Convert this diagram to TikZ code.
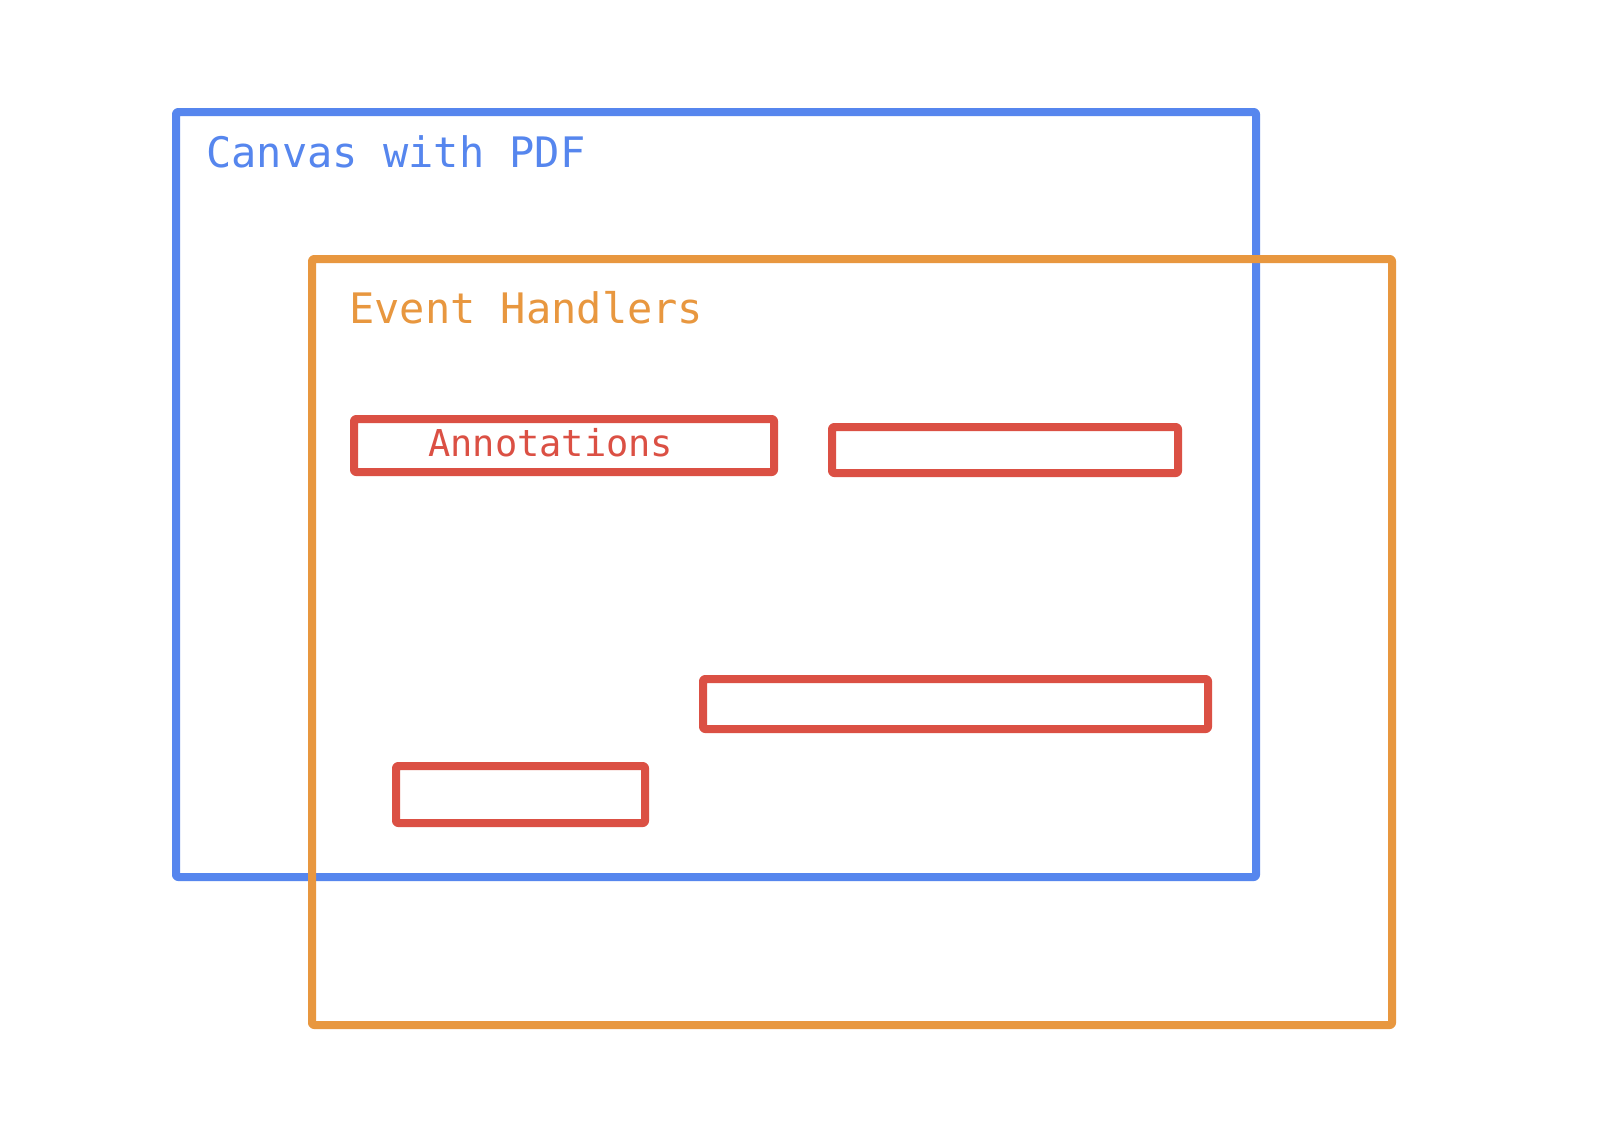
\documentclass[tikz,border=0pt]{standalone}
\usepackage{fontspec}
\setmonofont{DejaVu Sans Mono}
\definecolor{cblue}{HTML}{5686EE}
\definecolor{corange}{HTML}{E8973F}
\definecolor{cred}{HTML}{DB5044}
\begin{document}
\begin{tikzpicture}[x=1pt,y=-1pt,
  frame/.style={draw, line width=8pt, rounded corners=2pt, line join=round, inner sep=0pt, outer sep=0pt, anchor=north west},
  redbox/.style={frame, draw=cred},
  lbl/.style={anchor=base west, inner sep=0pt, font=\ttfamily\fontsize{42}{42}\selectfont}]
\useasboundingbox[fill=white] (0,0) rectangle (1624,1128);
\node[frame, draw=cblue, minimum width=1080pt, minimum height=765pt] (canvas) at (176,112) {};
\node[lbl, text=cblue] (canvaslbl) at (206,167) {Canvas with PDF};
\node[frame, draw=corange, minimum width=1080pt, minimum height=766pt] (events) at (312,259) {};
\node[lbl, text=corange] (eventslbl) at (349,323) {Event Handlers};
\node[redbox, minimum width=420pt, minimum height=53pt] (ann) at (354,419) {};
\node[anchor=base west, inner sep=0pt, text=cred, font=\ttfamily\fontsize{37}{37}\selectfont] (annlbl) at (428,456) {Annotations};
\node[redbox, minimum width=346pt, minimum height=46pt] (b2) at (832,427) {};
\node[redbox, minimum width=505pt, minimum height=50pt] (b3) at (703,679) {};
\node[redbox, minimum width=249pt, minimum height=57pt] (b4) at (396,766) {};
\end{tikzpicture}
\end{document}
